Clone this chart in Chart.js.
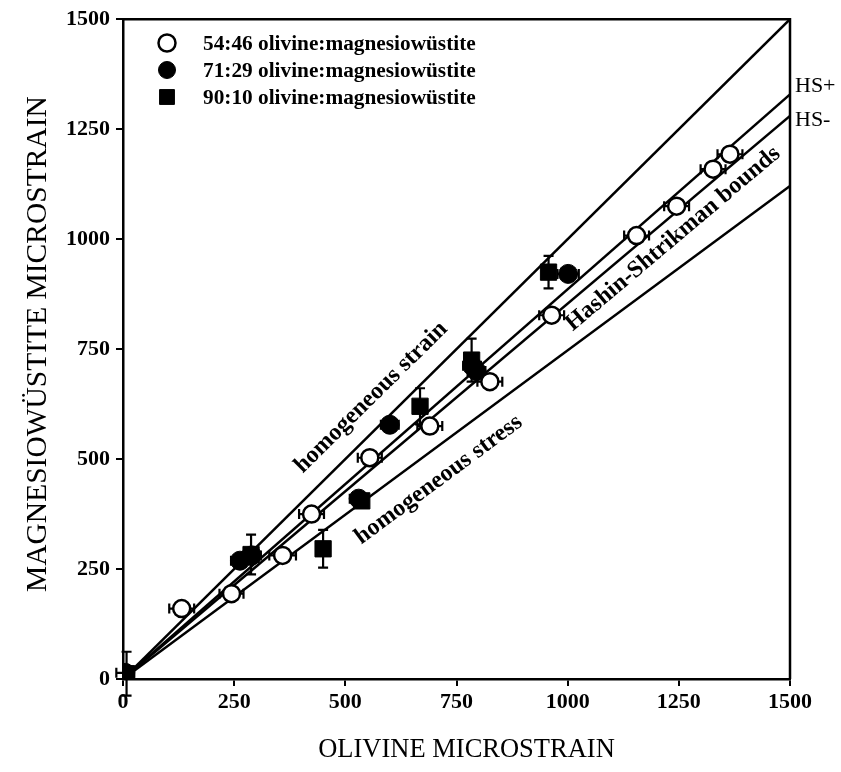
<!DOCTYPE html>
<html><head><meta charset="utf-8">
<script src="https://cdn.jsdelivr.net/npm/chart.js@4.4.0/dist/chart.umd.min.js"></script>
<style>html,body{margin:0;padding:0;background:#fff;}</style>
</head><body>
<canvas id="c" width="841" height="772"></canvas>
<script>
// ---- data ----
const xTicks = [0, 250, 500, 750, 1000, 1250, 1500];
const yTicks = [0, 250, 500, 750, 1000, 1250, 1500];
const xTitle = 'OLIVINE MICROSTRAIN';
const yTitle = 'MAGNESIOWÜSTITE MICROSTRAIN';
const seriesLabels = ['54:46 olivine:magnesiowüstite', '71:29 olivine:magnesiowüstite', '90:10 olivine:magnesiowüstite'];

const ol54X = [132, 244, 359, 424, 555, 690, 825, 964, 1155, 1245, 1327, 1365];
const ol54Y = [160, 194, 281, 375, 503, 575, 676, 827, 1008, 1075, 1159, 1193];
const ol54XErr = [28, 27, 30, 28, 27, 28, 28, 28, 28, 28, 28, 28];

const ol71X = [5, 263, 290, 600, 530, 785, 795, 1001];
const ol71Y = [14, 269, 281, 578, 410, 712, 700, 921];
const ol71XErr = [20, 20, 20, 20, 20, 20, 20, 24];

const ol90X = [8, 288, 450, 537, 668, 784, 957];
const ol90Y = [12, 283, 296, 405, 620, 725, 925];
const ol90YErr = [50, 45, 43, 15, 41, 49, 37];

const strainX = [0, 1500], strainY = [0, 1500];
const hsPlusX = [0, 1500], hsPlusY = [0, 1329];
const hsMinusX = [0, 1500], hsMinusY = [0, 1280];
const stressX = [0, 1500], stressY = [0, 1121];

const annotations = [
  {text: 'homogeneous strain', x: 558, y: 640, lineX: strainX, lineY: strainY},
  {text: 'homogeneous stress', x: 710, y: 453, lineX: stressX, lineY: stressY},
  {text: 'Hashin-Shtrikman bounds', x: 1237, y: 1001, lineX: hsMinusX, lineY: hsMinusY}
];
const sideLabels = [
  {text: 'HS+', lineY: hsPlusY, dy: -8},
  {text: 'HS-', lineY: hsMinusY, dy: 4}
];

// ---- helpers ----
const pts = (xs, ys) => xs.map((x, i) => ({x: x, y: ys[i]}));
const SERIF = '"Liberation Serif", "Times New Roman", serif';

const lineDs = (xs, ys) => ({
  type: 'line', data: pts(xs, ys), borderColor: '#000', borderWidth: 2.5,
  pointRadius: 0, fill: false, showLine: true, order: 10
});

const ds54 = {label: seriesLabels[0], data: pts(ol54X, ol54Y), xErr: ol54XErr,
  pointStyle: 'circle', pointRadius: 8.5, backgroundColor: '#fff', borderColor: '#000', borderWidth: 2.5, order: 1};
const ds71 = {label: seriesLabels[1], data: pts(ol71X, ol71Y), xErr: ol71XErr,
  pointStyle: 'circle', pointRadius: 9.5, backgroundColor: '#000', borderColor: '#000', borderWidth: 1, order: 2};
const ds90 = {label: seriesLabels[2], data: pts(ol90X, ol90Y), yErr: ol90YErr,
  pointStyle: 'rect', pointRadius: 11.5, backgroundColor: '#000', borderColor: '#000', borderWidth: 1, order: 3};

const errorBars = {
  id: 'errorBars',
  beforeDatasetDraw(chart, args) {
    const ds = chart.data.datasets[args.index];
    if (!ds.xErr && !ds.yErr) return;
    const ctx = chart.ctx, xs = chart.scales.x, ys = chart.scales.y;
    ctx.save();
    ctx.strokeStyle = '#000'; ctx.lineWidth = 2.2;
    ds.data.forEach((p, i) => {
      const px = xs.getPixelForValue(p.x), py = ys.getPixelForValue(p.y);
      ctx.beginPath();
      if (ds.xErr) {
        const a = xs.getPixelForValue(p.x - ds.xErr[i]), b = xs.getPixelForValue(p.x + ds.xErr[i]);
        ctx.moveTo(a, py); ctx.lineTo(b, py);
        ctx.moveTo(a, py - 5); ctx.lineTo(a, py + 5);
        ctx.moveTo(b, py - 5); ctx.lineTo(b, py + 5);
      }
      if (ds.yErr) {
        const a = ys.getPixelForValue(p.y - ds.yErr[i]), b = ys.getPixelForValue(p.y + ds.yErr[i]);
        ctx.moveTo(px, a); ctx.lineTo(px, b);
        ctx.moveTo(px - 5, a); ctx.lineTo(px + 5, a);
        ctx.moveTo(px - 5, b); ctx.lineTo(px + 5, b);
      }
      ctx.stroke();
    });
    ctx.restore();
  }
};

const decor = {
  id: 'decor',
  afterDraw(chart) {
    const ctx = chart.ctx, a = chart.chartArea, xs = chart.scales.x, ys = chart.scales.y;
    ctx.save();
    // frame top/right
    ctx.strokeStyle = '#000'; ctx.lineWidth = 2.5;
    ctx.beginPath();
    ctx.moveTo(a.left, a.top); ctx.lineTo(a.right, a.top); ctx.lineTo(a.right, a.bottom);
    ctx.stroke();

    // axis titles
    ctx.fillStyle = '#000';
    ctx.textAlign = 'center'; ctx.textBaseline = 'middle';
    ctx.font = '26.5px ' + SERIF;
    ctx.fillText(xTitle, (a.left + a.right) / 2 + 10, 750);
    ctx.save();
    ctx.translate(38, (a.top + a.bottom) / 2 - 5);
    ctx.rotate(-Math.PI / 2);
    ctx.font = '29.5px ' + SERIF;
    ctx.fillText(yTitle, 0, 0);
    ctx.restore();

    // legend
    const legendDs = [ds54, ds71, ds90];
    const rowY = [43, 70, 97];
    legendDs.forEach((d, i) => {
      const cx = a.left + 44, cy = rowY[i];
      ctx.fillStyle = d.backgroundColor; ctx.strokeStyle = d.borderColor; ctx.lineWidth = d.borderWidth;
      Chart.helpers.drawPoint(ctx, {pointStyle: d.pointStyle, radius: d.pointStyle === 'rect' ? 10.5 : 8.5, rotation: 0, borderWidth: d.borderWidth}, cx, cy);
      ctx.fillStyle = '#000';
      ctx.font = 'bold 21.3px ' + SERIF;
      ctx.textAlign = 'left'; ctx.textBaseline = 'middle';
      ctx.fillText(d.label, a.left + 80, cy + 1);
    });

    // rotated annotations
    ctx.fillStyle = '#000';
    ctx.font = 'bold 24px ' + SERIF;
    ctx.textAlign = 'center'; ctx.textBaseline = 'middle';
    annotations.forEach(an => {
      const x0 = xs.getPixelForValue(an.lineX[0]), y0 = ys.getPixelForValue(an.lineY[0]);
      const x1 = xs.getPixelForValue(an.lineX[1]), y1 = ys.getPixelForValue(an.lineY[1]);
      const ang = Math.atan2(y1 - y0, x1 - x0);
      ctx.save();
      ctx.translate(xs.getPixelForValue(an.x), ys.getPixelForValue(an.y));
      ctx.rotate(ang);
      ctx.fillText(an.text, 0, 0);
      ctx.restore();
    });

    // HS+ / HS- labels at right edge
    ctx.font = '22px ' + SERIF;
    ctx.textAlign = 'left'; ctx.textBaseline = 'middle';
    sideLabels.forEach(s => {
      const py = ys.getPixelForValue(s.lineY[1]);
      ctx.fillText(s.text, a.right + 5, py + s.dy);
    });
    ctx.restore();
  }
};

const tickFont = {family: SERIF, size: 22, weight: 'bold'};
const plainNum = v => String(v);

new Chart(document.getElementById('c'), {
  type: 'scatter',
  data: {
    datasets: [
      lineDs(strainX, strainY), lineDs(hsPlusX, hsPlusY), lineDs(hsMinusX, hsMinusY), lineDs(stressX, stressY),
      ds54, ds71, ds90
    ]
  },
  options: {
    responsive: false, animation: false, devicePixelRatio: 1,
    layout: {padding: {top: 16, right: 51, bottom: 0, left: 0}},
    plugins: {legend: {display: false}, tooltip: {enabled: false}},
    scales: {
      x: {
        type: 'linear', min: 0, max: 1500,
        afterBuildTicks: s => { s.ticks = xTicks.map(v => ({value: v})); },
        afterFit: s => { s.height = 93; },
        ticks: {font: tickFont, color: '#000', padding: 3, maxRotation: 0, callback: plainNum},
        grid: {drawOnChartArea: false, drawTicks: true, tickLength: 7, color: '#000', lineWidth: 2},
        border: {display: true, color: '#000', width: 2.5},
        title: {display: false}
      },
      y: {
        type: 'linear', min: 0, max: 1500,
        afterBuildTicks: s => { s.ticks = yTicks.map(v => ({value: v})); },
        afterFit: s => { s.width = 123; },
        ticks: {font: tickFont, color: '#000', padding: 6, callback: plainNum},
        grid: {drawOnChartArea: false, drawTicks: true, tickLength: 7, color: '#000', lineWidth: 2},
        border: {display: true, color: '#000', width: 2.5},
        title: {display: false}
      }
    }
  },
  plugins: [errorBars, decor]
});
</script>
</body></html>
